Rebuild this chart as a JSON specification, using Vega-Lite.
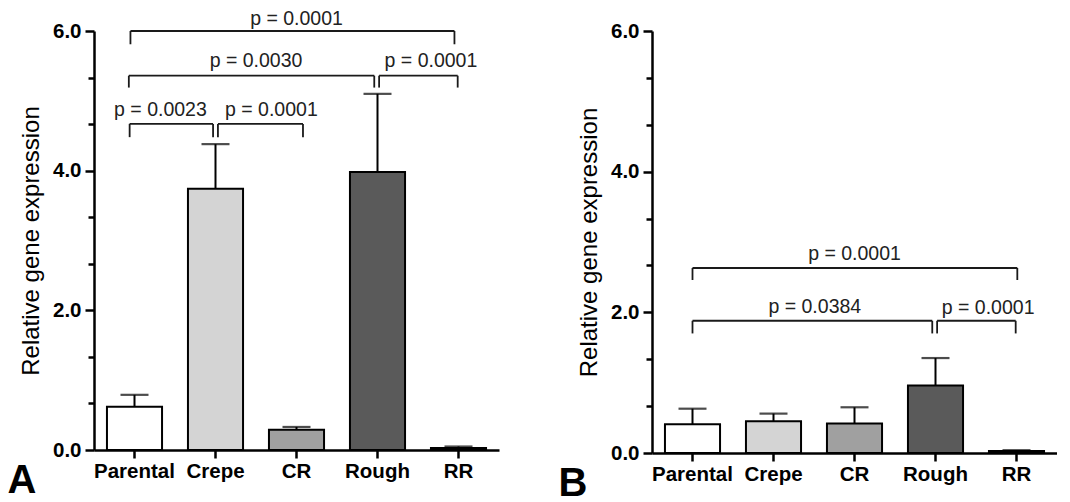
{
  "$schema": "https://vega.github.io/schema/vega-lite/v6.json",
  "padding": {"left": 7, "top": 8, "right": 0, "bottom": 0},
  "background": "#ffffff",
  "config": {
    "font": "Liberation Sans",
    "view": {"stroke": null},
    "axis": {"grid": false, "domainColor": "#000", "domainWidth": 2.5, "tickColor": "#000", "tickWidth": 2.5, "labelColor": "#000", "titleColor": "#000"},
    "concat": {"spacing": 153}
  },
  "datasets": {
    "bars": [
      {"panel": "A", "strain": "Parental", "mean": 0.62, "upper": 0.79},
      {"panel": "A", "strain": "Crepe", "mean": 3.74, "upper": 4.38},
      {"panel": "A", "strain": "CR", "mean": 0.29, "upper": 0.33},
      {"panel": "A", "strain": "Rough", "mean": 3.98, "upper": 5.10},
      {"panel": "A", "strain": "RR", "mean": 0.03, "upper": 0.05},
      {"panel": "B", "strain": "Parental", "mean": 0.41, "upper": 0.63},
      {"panel": "B", "strain": "Crepe", "mean": 0.45, "upper": 0.56},
      {"panel": "B", "strain": "CR", "mean": 0.42, "upper": 0.65},
      {"panel": "B", "strain": "Rough", "mean": 0.96, "upper": 1.35},
      {"panel": "B", "strain": "RR", "mean": 0.03, "upper": 0.04}
    ],
    "brackets": [
      {"panel": "A", "x1": 0.95, "x2": 4.95, "y": 6.0, "yb": 5.81, "label": "p = 0.0001", "lx": 3.0, "ly": 6.09},
      {"panel": "A", "x1": 0.93, "x2": 3.96, "y": 5.36, "yb": 5.19, "label": "p = 0.0030", "lx": 2.5, "ly": 5.48},
      {"panel": "A", "x1": 4.02, "x2": 4.99, "y": 5.36, "yb": 5.19, "label": "p = 0.0001", "lx": 4.66, "ly": 5.48},
      {"panel": "A", "x1": 0.94, "x2": 1.97, "y": 4.67, "yb": 4.48, "label": "p = 0.0023", "lx": 1.32, "ly": 4.78},
      {"panel": "A", "x1": 2.03, "x2": 3.08, "y": 4.67, "yb": 4.48, "label": "p = 0.0001", "lx": 2.69, "ly": 4.78},
      {"panel": "B", "x1": 1.0, "x2": 5.01, "y": 2.63, "yb": 2.46, "label": "p = 0.0001", "lx": 3.0, "ly": 2.745},
      {"panel": "B", "x1": 1.0, "x2": 3.96, "y": 1.88, "yb": 1.70, "label": "p = 0.0384", "lx": 2.51, "ly": 1.99},
      {"panel": "B", "x1": 4.02, "x2": 4.99, "y": 1.88, "yb": 1.70, "label": "p = 0.0001", "lx": 4.65, "ly": 1.98}
    ]
  },
  "bounds": "flush",
  "hconcat": [
    {
      "width": 405,
      "height": 419,
      "title": {"text": "A", "orient": "bottom", "anchor": "start", "fontSize": 40, "fontWeight": "bold", "color": "#000", "offset": -21, "dx": -12},
      "resolve": {"scale": {"x": "independent"}},
      "layer": [
        {
          "data": {"name": "bars"},
          "transform": [{"filter": "datum.panel === 'A'"}],
          "layer": [
            {
              "mark": {"type": "bar", "stroke": "#000", "strokeWidth": 2},
              "encoding": {
                "x": {"field": "strain", "type": "nominal", "sort": ["Parental", "Crepe", "CR", "Rough", "RR"], "scale": {"paddingInner": 0.32, "paddingOuter": 0.16}, "axis": {"title": null, "labelAngle": 0, "labelFontSize": 20.5, "labelFontWeight": "bold", "tickSize": 8, "labelPadding": 3}},
                "y": {"field": "mean", "type": "quantitative", "scale": {"domain": [0, 6], "nice": false}, "axis": {"title": "Relative gene expression", "titleFontSize": 24, "titleFontWeight": "normal", "titlePadding": 9, "labelFontSize": 20.5, "labelFontWeight": "bold", "labelPadding": 4, "values": [0, 0.6667, 1.3333, 2, 2.6667, 3.3333, 4, 4.6667, 5.3333, 6], "labelExpr": "abs(datum.value - 2*round(datum.value/2)) < 0.01 ? format(datum.value, '.1f') : ''", "tickSize": {"condition": {"test": "abs(datum.value - 2*round(datum.value/2)) < 0.01", "value": 9}, "value": 6}}},
                "fill": {"field": "strain", "type": "nominal", "scale": {"domain": ["Parental", "Crepe", "CR", "Rough", "RR"], "range": ["#ffffff", "#d4d4d4", "#a0a0a0", "#5a5a5a", "#000000"]}, "legend": null}
              }
            },
            {
              "mark": {"type": "rule", "strokeWidth": 2, "color": "#000"},
              "encoding": {
                "x": {"field": "strain", "type": "nominal", "sort": ["Parental", "Crepe", "CR", "Rough", "RR"]},
                "y": {"field": "mean", "type": "quantitative"},
                "y2": {"field": "upper"}
              }
            },
            {
              "mark": {"type": "tick", "size": 28, "thickness": 2.2, "color": "#000", "orient": "horizontal"},
              "encoding": {
                "x": {"field": "strain", "type": "nominal", "sort": ["Parental", "Crepe", "CR", "Rough", "RR"]},
                "y": {"field": "upper", "type": "quantitative"}
              }
            }
          ]
        },
        {
          "data": {"name": "brackets"},
          "transform": [{"filter": "datum.panel === 'A'"}],
          "layer": [
            {
              "mark": {"type": "rule", "strokeWidth": 1.8, "color": "#1a1a1a"},
              "encoding": {
                "x": {"field": "x1", "type": "quantitative", "scale": {"domain": [0.5, 5.5], "nice": false, "zero": false}, "axis": null},
                "x2": {"field": "x2"},
                "y": {"field": "y", "type": "quantitative"}
              }
            },
            {
              "mark": {"type": "rule", "strokeWidth": 1.8, "color": "#1a1a1a"},
              "encoding": {
                "x": {"field": "x1", "type": "quantitative"},
                "y": {"field": "y", "type": "quantitative"},
                "y2": {"field": "yb"}
              }
            },
            {
              "mark": {"type": "rule", "strokeWidth": 1.8, "color": "#1a1a1a"},
              "encoding": {
                "x": {"field": "x2", "type": "quantitative"},
                "y": {"field": "y", "type": "quantitative"},
                "y2": {"field": "yb"}
              }
            },
            {
              "mark": {"type": "text", "fontSize": 19.5, "color": "#222", "baseline": "alphabetic", "align": "center"},
              "encoding": {
                "x": {"field": "lx", "type": "quantitative"},
                "y": {"field": "ly", "type": "quantitative"},
                "text": {"field": "label"}
              }
            }
          ]
        }
      ]
    },
    {
      "width": 405,
      "height": 422,
      "title": {"text": "B", "orient": "bottom", "anchor": "start", "fontSize": 40, "fontWeight": "bold", "color": "#000", "offset": -21, "dx": -19},
      "resolve": {"scale": {"x": "independent"}},
      "layer": [
        {
          "data": {"name": "bars"},
          "transform": [{"filter": "datum.panel === 'B'"}],
          "layer": [
            {
              "mark": {"type": "bar", "stroke": "#000", "strokeWidth": 2},
              "encoding": {
                "x": {"field": "strain", "type": "nominal", "sort": ["Parental", "Crepe", "CR", "Rough", "RR"], "scale": {"paddingInner": 0.32, "paddingOuter": 0.16}, "axis": {"title": null, "labelAngle": 0, "labelFontSize": 20.5, "labelFontWeight": "bold", "tickSize": 8, "labelPadding": 3}},
                "y": {"field": "mean", "type": "quantitative", "scale": {"domain": [0, 6], "nice": false}, "axis": {"title": "Relative gene expression", "titleFontSize": 24, "titleFontWeight": "normal", "titlePadding": 9, "labelFontSize": 20.5, "labelFontWeight": "bold", "labelPadding": 4, "values": [0, 0.6667, 1.3333, 2, 2.6667, 3.3333, 4, 4.6667, 5.3333, 6], "labelExpr": "abs(datum.value - 2*round(datum.value/2)) < 0.01 ? format(datum.value, '.1f') : ''", "tickSize": {"condition": {"test": "abs(datum.value - 2*round(datum.value/2)) < 0.01", "value": 9}, "value": 6}}},
                "fill": {"field": "strain", "type": "nominal", "scale": {"domain": ["Parental", "Crepe", "CR", "Rough", "RR"], "range": ["#ffffff", "#d4d4d4", "#a0a0a0", "#5a5a5a", "#000000"]}, "legend": null}
              }
            },
            {
              "mark": {"type": "rule", "strokeWidth": 2, "color": "#000"},
              "encoding": {
                "x": {"field": "strain", "type": "nominal", "sort": ["Parental", "Crepe", "CR", "Rough", "RR"]},
                "y": {"field": "mean", "type": "quantitative"},
                "y2": {"field": "upper"}
              }
            },
            {
              "mark": {"type": "tick", "size": 28, "thickness": 2.2, "color": "#000", "orient": "horizontal"},
              "encoding": {
                "x": {"field": "strain", "type": "nominal", "sort": ["Parental", "Crepe", "CR", "Rough", "RR"]},
                "y": {"field": "upper", "type": "quantitative"}
              }
            }
          ]
        },
        {
          "data": {"name": "brackets"},
          "transform": [{"filter": "datum.panel === 'B'"}],
          "layer": [
            {
              "mark": {"type": "rule", "strokeWidth": 1.8, "color": "#1a1a1a"},
              "encoding": {
                "x": {"field": "x1", "type": "quantitative", "scale": {"domain": [0.5, 5.5], "nice": false, "zero": false}, "axis": null},
                "x2": {"field": "x2"},
                "y": {"field": "y", "type": "quantitative"}
              }
            },
            {
              "mark": {"type": "rule", "strokeWidth": 1.8, "color": "#1a1a1a"},
              "encoding": {
                "x": {"field": "x1", "type": "quantitative"},
                "y": {"field": "y", "type": "quantitative"},
                "y2": {"field": "yb"}
              }
            },
            {
              "mark": {"type": "rule", "strokeWidth": 1.8, "color": "#1a1a1a"},
              "encoding": {
                "x": {"field": "x2", "type": "quantitative"},
                "y": {"field": "y", "type": "quantitative"},
                "y2": {"field": "yb"}
              }
            },
            {
              "mark": {"type": "text", "fontSize": 19.5, "color": "#222", "baseline": "alphabetic", "align": "center"},
              "encoding": {
                "x": {"field": "lx", "type": "quantitative"},
                "y": {"field": "ly", "type": "quantitative"},
                "text": {"field": "label"}
              }
            }
          ]
        }
      ]
    }
  ]
}
